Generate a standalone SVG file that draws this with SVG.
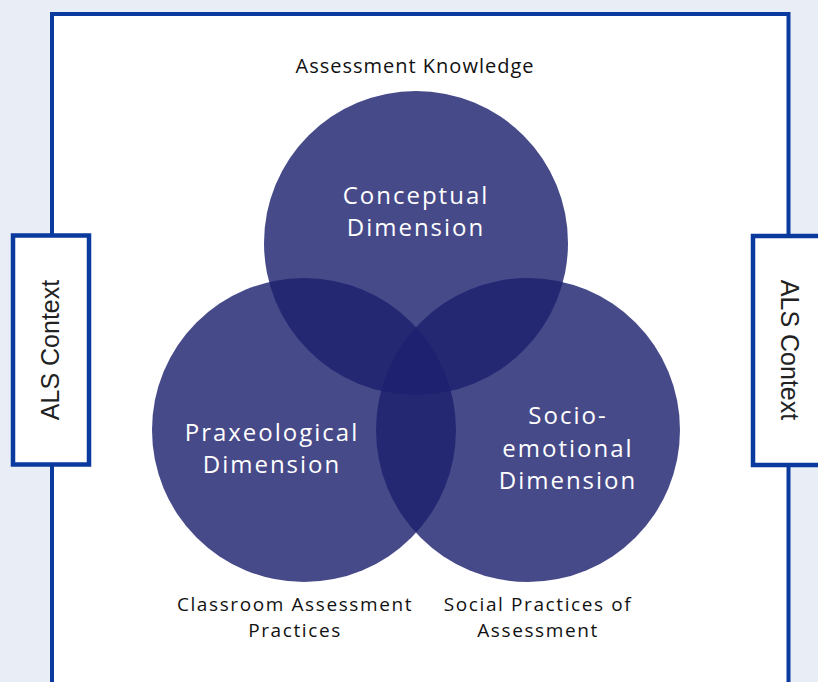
<svg xmlns="http://www.w3.org/2000/svg" width="818" height="682" viewBox="0 0 818 682">
  <style>
    .frame { fill: #ffffff; stroke: #0a3a9e; stroke-width: 4; }
    .ctx { fill: #ffffff; stroke: #0a3a9e; stroke-width: 4.5; }
    .ctx-label { font-family: "Liberation Sans", Arial, sans-serif; font-size: 25px; fill: #222222; text-anchor: middle; }
    .dim { fill: #1c206e; fill-opacity: 0.81; }
    .dim-label { font-family: "Open Sans", "DejaVu Sans", sans-serif; font-size: 24px; fill: #ffffff; text-anchor: middle; letter-spacing: 2px; }
    .caption { font-family: "Open Sans", "DejaVu Sans", sans-serif; font-size: 19px; fill: #111111; text-anchor: middle; letter-spacing: 1.6px; }
  </style>

  <!-- page background and outer frame -->
  <rect x="0" y="0" width="818" height="682" fill="#e9eef6"/>
  <rect class="frame" x="52" y="14" width="736.5" height="700"/>

  <!-- side context boxes -->
  <g id="context-left">
    <rect class="ctx" x="13" y="235.5" width="76" height="229"/>
    <text class="ctx-label" transform="translate(59,350) rotate(-90)">ALS Context</text>
  </g>
  <g id="context-right">
    <rect class="ctx" x="753" y="236" width="80" height="229"/>
    <text class="ctx-label" transform="translate(781,350) rotate(90)">ALS Context</text>
  </g>

  <!-- three overlapping dimensions -->
  <g id="conceptual">
    <circle class="dim" cx="416" cy="243" r="152"/>
    <text class="dim-label" x="416" y="204">Conceptual</text>
    <text class="dim-label" x="416" y="236">Dimension</text>
  </g>
  <g id="praxeological">
    <circle class="dim" cx="304" cy="430" r="152"/>
    <text class="dim-label" x="272" y="441">Praxeological</text>
    <text class="dim-label" x="272" y="473">Dimension</text>
  </g>
  <g id="socio-emotional">
    <circle class="dim" cx="528" cy="430" r="152"/>
    <text class="dim-label" x="568" y="424">Socio-</text>
    <text class="dim-label" x="568" y="457">emotional</text>
    <text class="dim-label" x="568" y="489">Dimension</text>
  </g>

  <!-- captions -->
  <g id="caption-knowledge">
    <text class="caption" x="415" y="73" style="font-size:20px;letter-spacing:1px">Assessment Knowledge</text>
  </g>
  <g id="caption-classroom">
    <text class="caption" x="295" y="611">Classroom Assessment</text>
    <text class="caption" x="295" y="637">Practices</text>
  </g>
  <g id="caption-social">
    <text class="caption" x="538" y="611">Social Practices of</text>
    <text class="caption" x="538" y="637">Assessment</text>
  </g>

  <g id="connectors"/>
</svg>
